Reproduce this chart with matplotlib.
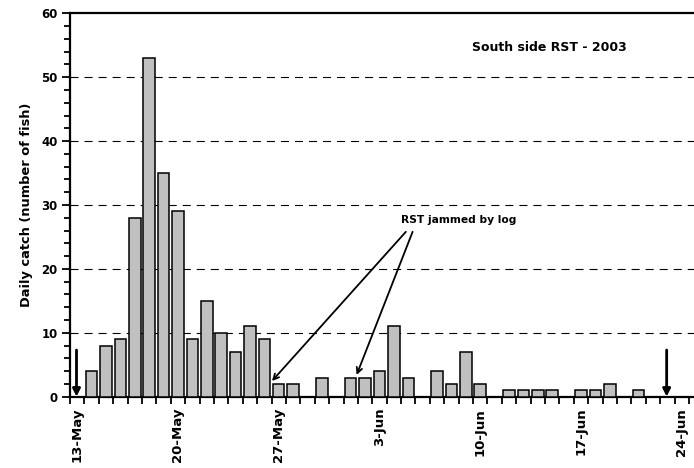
import numpy as np
import pandas as pd
import matplotlib
matplotlib.use('Agg')
import matplotlib.pyplot as plt
from matplotlib.ticker import MultipleLocator

plt.rcParams['font.family'] = ['DejaVu Sans']
plt.rcParams['font.weight'] = 'bold'
plt.rcParams['lines.scale_dashes'] = False

# daily catch, 13 May - 24 Jun 2003
dates = pd.date_range('2003-05-13', '2003-06-24', freq='D')
catch = [0, 4, 8, 9, 28, 53, 35, 29, 9, 15, 10, 7, 11, 9,
         2, 2, 0, 3, 0, 3, 3, 4, 11, 3, 0, 4, 2, 7,
         2, 0, 1, 1, 1, 1, 0, 1, 1, 2, 0, 1, 0, 0, 0]
label_days = dates[::7]
start_day = '2003-05-13'
end_day = '2003-06-23'

x = np.arange(len(dates))

fig = plt.figure(figsize=(6.94, 4.68), dpi=100)
ax = fig.add_axes([0.1009, 0.1524, 0.8991, 0.8192])

ax.bar(x, catch, width=0.8, color='#c0c0c0', edgecolor='black', linewidth=1.1, zorder=3)

ax.set_xlim(-0.5, len(dates) - 0.15)
ax.set_ylim(0, 60)

# day boundaries as tick marks, date labels centred on the day
ax.set_xticks(np.arange(len(dates) + 1) - 0.5)
ax.set_xticklabels([])
lab_pos = [dates.get_loc(d) for d in label_days]
ax.set_xticks(lab_pos, minor=True)
ax.set_xticklabels([f'{d.day}-{d.strftime("%b")}' for d in label_days],
                   minor=True, rotation=90, fontsize=9.5, fontweight='bold')
ax.tick_params(axis='x', which='major', length=5, width=1.3, direction='out')
ax.tick_params(axis='x', which='minor', length=0, pad=8)

ax.yaxis.set_major_locator(MultipleLocator(10))
ax.yaxis.set_minor_locator(MultipleLocator(2))
ax.tick_params(axis='y', which='major', length=6, width=1.3, labelsize=8.5, pad=3)
ax.tick_params(axis='y', which='minor', length=4, width=1.3)
for lab in ax.get_yticklabels():
    lab.set_fontweight('bold')

for yv in range(10, 60, 10):
    ax.axhline(yv, color='black', linewidth=0.8, linestyle=(0, (5.8, 4.3)), zorder=1)

ax.spines['right'].set_visible(False)
for s in ['left', 'bottom', 'top']:
    ax.spines[s].set_linewidth(1.6)

ax.set_ylabel('Daily catch (number of fish)', fontsize=9.4, fontweight='bold', labelpad=6)

ax.text(32.8, 54.7, 'South side RST - 2003', fontsize=9, fontweight='bold',
        ha='center', va='center')

# trap jammed annotations
ax.text(26.5, 27.65, 'RST jammed by log', fontsize=7.7, fontweight='bold',
        ha='center', va='center')
arrow = dict(arrowstyle='->', color='black', lw=1.3, shrinkA=0, shrinkB=0)
ax.annotate('', xy=(13.53, 2.45), xytext=(22.83, 25.8), arrowprops=arrow)
ax.annotate('', xy=(19.41, 3.4), xytext=(23.3, 25.8), arrowprops=arrow)

# start and end of sampling
for d in [start_day, end_day]:
    i = dates.get_loc(pd.Timestamp(d))
    ax.annotate('', xy=(i - 0.05, 0), xytext=(i - 0.05, 7.3),
                arrowprops=dict(arrowstyle='-|>', color='black', lw=2,
                                mutation_scale=11, shrinkA=0, shrinkB=0),
                zorder=4)

fig.savefig('out.png', dpi=100)
